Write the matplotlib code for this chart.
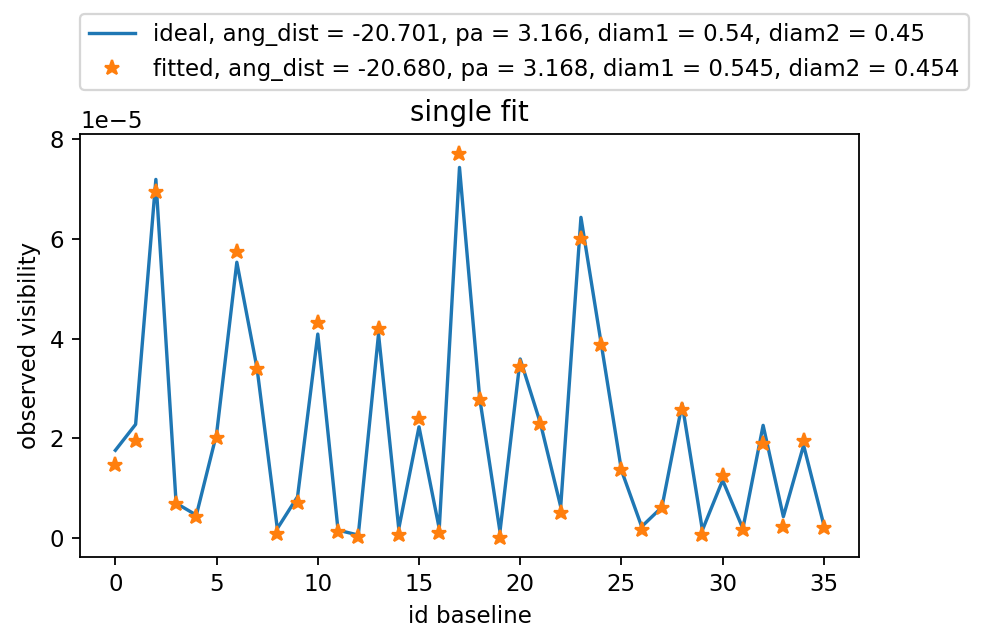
import numpy as np
import matplotlib.pyplot as plt
from matplotlib.ticker import MultipleLocator

# visibilidades (en unidades de 1e-5)
baseline_id = np.arange(36)
ideal = [1.76, 2.28, 7.19, 0.70, 0.46, 2.09, 5.53, 3.40, 0.19, 0.83,
         4.09, 0.16, 0.06, 4.09, 0.19, 2.23, 0.19, 7.43, 2.80, 0.13,
         3.59, 2.30, 0.63, 6.43, 3.90, 1.36, 0.23, 0.62, 2.69, 0.16,
         1.16, 0.19, 2.26, 0.43, 1.86, 0.26]
fitted = [1.46, 1.94, 6.93, 0.68, 0.43, 2.01, 5.73, 3.39, 0.09, 0.71,
          4.31, 0.13, 0.03, 4.19, 0.06, 2.39, 0.11, 7.71, 2.76, 0.00,
          3.43, 2.29, 0.51, 5.99, 3.88, 1.36, 0.16, 0.61, 2.56, 0.06,
          1.24, 0.16, 1.88, 0.23, 1.95, 0.21]

label_ideal = 'ideal, ang_dist = -20.701, pa = 3.166, diam1 = 0.54, diam2 = 0.45'
label_fit = 'fitted, ang_dist = -20.680, pa = 3.168, diam1 = 0.545, diam2 = 0.454'

scale = 1e-5
ideal = np.array(ideal) * scale
fitted = np.array(fitted) * scale

plt.rcParams['font.size'] = 10.2

dpi = 162
fig = plt.figure(figsize=(992 / dpi, 637 / dpi), dpi=dpi)
ax = fig.add_axes([0.0806, 0.1251, 0.7856, 0.6641])

ax.plot(baseline_id, ideal, label=label_ideal)
ax.plot(baseline_id, fitted, '*', markersize=7, label=label_fit)

ax.yaxis.set_major_locator(MultipleLocator(2 * scale))

ax.set_title('single fit')
ax.set_xlabel('id baseline')
ax.set_ylabel('observed visibility')
ax.legend(loc='lower left', bbox_to_anchor=(0, 1.105), borderaxespad=0)

fig.savefig('out.png', dpi=dpi)
